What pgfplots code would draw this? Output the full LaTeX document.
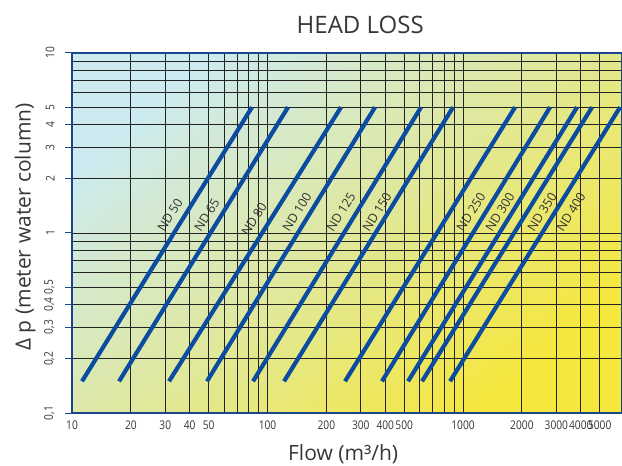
\documentclass[border=0pt]{standalone}
\usepackage{fontspec}
\setmainfont{Open Sans}
\newfontfamily\tickfont[FakeStretch=0.85]{Open Sans}
\usepackage{pgfplots}
\pgfplotsset{compat=1.18}

\definecolor{bgcyan}{RGB}{204,234,240}
\definecolor{bgmid}{RGB}{224,232,156}
\definecolor{bgyellow}{RGB}{246,231,60}
\definecolor{ndblue}{RGB}{12,76,160}
\definecolor{axblue}{RGB}{25,70,140}
\definecolor{txt}{RGB}{55,55,55}
\definecolor{gridc}{RGB}{35,35,35}

\tikzset{
    nd/.style={draw=ndblue, line width=4.2pt},
    ndlabel/.style={rotate=58.2, font=\fontsize{12.5}{14}\selectfont, text=black!80, inner sep=0pt},
}

\begin{document}
\begin{tikzpicture}
\begin{axis}[
    name=ax,
    scale only axis, width=550pt, height=360pt,
    xmode=log, ymode=log,
    xmin=10, xmax=6500, ymin=0.1, ymax=10,
    axis background/.style={shade, top color=bgcyan, bottom color=bgyellow,
        middle color=bgmid, shading angle=40},
    axis line style={draw=axblue, line width=1.2pt},
    xtick={10,20,30,40,50,100,200,300,400,500,1000,2000,3000,4000,5000},
    xticklabels={10,20,30,40,50,100,200,300,400,500,1000,2000,3000,4000,5000},
    minor xtick={60,70,80,90,600,700,800,900},
    ytick={0.1,0.2,0.3,0.4,0.5,1,2,3,4,5,10},
    yticklabels={{0,1},{0,2},{0,3},{0,4},{0,5},1,2,3,4,5,10},
    minor ytick={0.6,0.7,0.8,0.9,6,7,8,9},
    grid=both,
    major grid style={draw=gridc, line width=0.9pt},
    minor grid style={draw=gridc, line width=0.9pt},
    tick align=outside,
    xtick style={draw=none},
    ytick style={draw=axblue, line width=1pt},
    minor tick length=0pt,
    major tick length=7pt,
    ticklabel style={font=\tickfont\fontsize{12}{14}\selectfont, text=txt},
    yticklabel style={rotate=90, anchor=south},
    yticklabel shift=7pt,
    xticklabel style={anchor=north},
    xticklabel shift=-3pt,
    title={HEAD LOSS},
    title style={font=\fontsize{24}{28}\selectfont, text=txt,
        at={(axis description cs:0.524,1.06)}, anchor=center},
    xlabel={Flow (m³/h)},
    ylabel={Δ p (meter water column)},
    every axis x label/.style={at={(axis description cs:0.493,-0.114)},
        anchor=center, font=\fontsize{21}{24}\selectfont, text=txt},
    every axis y label/.style={at={(axis description cs:-0.085,0.517)},
        rotate=90, anchor=center, font=\fontsize{21}{24}\selectfont, text=txt},
]
% ND lines, (0.15 -> 5 m)
\addplot[nd] coordinates {(11.25,0.15) (83.3,5)};
\addplot[nd] coordinates {(17.4,0.15) (127.3,5)};
\addplot[nd] coordinates {(31.35,0.15) (237.7,5)};
\addplot[nd] coordinates {(49.0,0.15) (354.6,5)};
\addplot[nd] coordinates {(84.3,0.15) (610,5)};
\addplot[nd] coordinates {(121.5,0.15) (889,5)};
\addplot[nd] coordinates {(249,0.15) (1845,5)};
\addplot[nd] coordinates {(385,0.15) (2786,5)};
\addplot[nd] coordinates {(523,0.15) (3829,5)};
\addplot[nd] coordinates {(617,0.15) (4570,5)};
\addplot[nd] coordinates {(858,0.15) (6353,5)};

\node[ndlabel] at (axis cs:31.7,1.259) {ND 50};
\node[ndlabel] at (axis cs:49.0,1.259) {ND 65};
\node[ndlabel] at (axis cs:85.3,1.196) {ND 80};
\node[ndlabel] at (axis cs:141.5,1.308) {ND 100};
\node[ndlabel] at (axis cs:237.7,1.308) {ND 125};
\node[ndlabel] at (axis cs:363,1.308) {ND 150};
\node[ndlabel] at (axis cs:1099,1.308) {ND 250};
\node[ndlabel] at (axis cs:1546,1.308) {ND 300};
\node[ndlabel] at (axis cs:2536,1.308) {ND 350};
\node[ndlabel] at (axis cs:3567,1.308) {ND 400};
\end{axis}
\pgfresetboundingbox
\path[use as bounding box] ([xshift=-72pt,yshift=-53pt]ax.south west) rectangle ([yshift=53pt]ax.north east);
\end{tikzpicture}
\end{document}
